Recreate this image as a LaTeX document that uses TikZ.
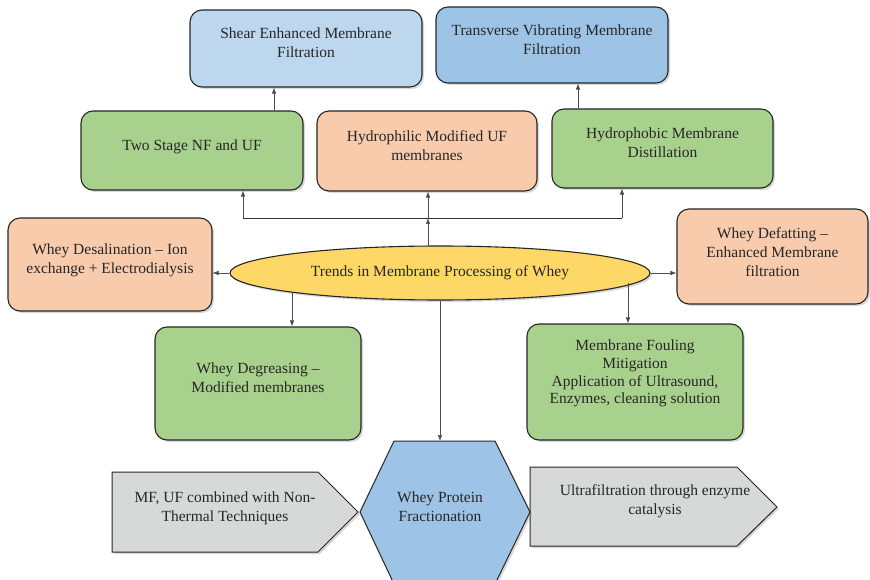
\documentclass[tikz,border=0pt]{standalone}
\usepackage{fontspec}
\setmainfont{Liberation Serif}
\usetikzlibrary{shapes.geometric,shadows,arrows.meta}

\definecolor{shearblue}{HTML}{BDD7EE}
\definecolor{vibblue}{HTML}{9DC3E6}
\definecolor{leafgreen}{HTML}{A9D18E}
\definecolor{peach}{HTML}{F8CBAD}
\definecolor{gold}{HTML}{FDD866}
\definecolor{arrowgrey}{HTML}{D7D8D8}

\begin{document}
\begin{tikzpicture}[x=1pt,y=-1pt]
    \tikzstyle{box}=[draw=black!85,line width=1.1pt,rounded corners=12pt,align=center,text=black!85,inner sep=2pt,text depth=11pt,
        font=\fontsize{15.5}{19}\selectfont,drop shadow={shadow xshift=2pt,shadow yshift=-2pt,opacity=0.3}]
    \tikzstyle{flat}=[draw=black!85,line width=1pt,drop shadow={shadow xshift=2pt,shadow yshift=-2pt,opacity=0.3}]
    \tikzstyle{txt}=[align=center,text=black!85,font=\fontsize{15.5}{19}\selectfont]
    \tikzstyle{conn}=[draw=black!70,line width=0.6pt,-{Latex[length=6pt,width=4.5pt]}]
    \tikzstyle{wire}=[draw=black!80,line width=0.8pt]

    \useasboundingbox (0,0) rectangle (870,580);

    % top row
    \node[box,fill=shearblue,minimum width=232,minimum height=77] at (306,48.5) (shear) {Shear Enhanced Membrane\\Filtration};
    \node[box,fill=vibblue,minimum width=232,minimum height=76] at (552,45) (trans) {Transverse Vibrating Membrane\\Filtration};

    % second row
    \node[box,fill=leafgreen,minimum width=222,minimum height=79] at (192,150.5) (twostage) {Two Stage NF and UF};
    \node[box,fill=peach,minimum width=220,minimum height=80] at (427,151) (hydrophil) {Hydrophilic Modified UF\\membranes};
    \node[box,fill=leafgreen,minimum width=221,minimum height=79] at (662.5,148.5) (hydrophob) {Hydrophobic Membrane\\Distillation};

    % centre row
    \node[box,fill=peach,minimum width=204,minimum height=93] at (110,264.5) (desal) {Whey Desalination – Ion\\exchange + Electrodialysis};
    \node[ellipse,draw=black!85,line width=1.1pt,fill=gold,inner sep=1pt,minimum width=420,minimum height=54,txt,
        drop shadow={shadow xshift=2pt,shadow yshift=-2pt,opacity=0.3}] at (440,273) (trends) {Trends in Membrane Processing of Whey};
    \node[box,fill=peach,minimum width=191,minimum height=95,text depth=9pt] at (772.5,256.5) (defat) {Whey Defatting –\\Enhanced Membrane\\filtration};

    % lower row
    \node[box,fill=leafgreen,minimum width=206,minimum height=113] at (258,383.5) (degrease) {Whey Degreasing –\\Modified membranes};
    \node[box,fill=leafgreen,minimum width=216,minimum height=116,text depth=20pt,font=\fontsize{15.5}{17.6}\selectfont] at (635,382) (fouling) {Membrane Fouling\\Mitigation\\Application of Ultrasound,\\Enzymes, cleaning solution};

    % bottom row
    \path[flat,fill=arrowgrey] (112,472) -- (318,472) -- (358,512) -- (318,552) -- (112,552) -- cycle;
    \node[txt] at (225,508) (mfuf) {MF, UF combined with Non-\\Thermal Techniques};
    \path[flat,fill=arrowgrey] (530,467) -- (737,467) -- (777,507) -- (737,546) -- (530,546) -- cycle;
    \node[txt] at (655,501) (ufenz) {Ultrafiltration through enzyme\\catalysis};
    \path[flat,fill=vibblue] (394,441) -- (495,441) -- (530,512) -- (495,584) -- (394,584) -- (360,512) -- cycle;
    \node[txt] at (440,507) (wpf) {Whey Protein\\Fractionation};
    \coordinate (hextop) at (440,441);

    % connectors
    \coordinate (hub) at (428,218);
    \coordinate (hubL) at (243,218);
    \coordinate (hubR) at (622,218);
    \draw[wire] (hubL) -- (hubR);
    \draw[conn] (hub |- trends.north) -- (hub);
    \draw[conn] (hubL) -- (hubL |- twostage.south);
    \draw[conn] (hub) -- (hub |- hydrophil.south);
    \draw[conn] (hubR) -- (hubR |- hydrophob.south);
    \draw[conn] ([xshift=82pt]twostage.north) -- ([xshift=82pt]twostage.north |- shear.south);
    \draw[conn] ([xshift=-84.5pt]hydrophob.north) -- ([xshift=-84.5pt]hydrophob.north |- trans.south);
    \draw[conn] (trends.west) -- (trends.west -| desal.east);
    \draw[conn] (trends.east) -- (trends.east -| defat.west);
    \draw[conn] ([xshift=34pt]degrease.north |- trends.south west) -- ([xshift=34pt]degrease.north);
    \draw[conn] ([xshift=-7pt]fouling.north |- trends.-3.6) -- ([xshift=-7pt]fouling.north);
    \draw[conn] (trends.south) -- (hextop);
\end{tikzpicture}
\end{document}
